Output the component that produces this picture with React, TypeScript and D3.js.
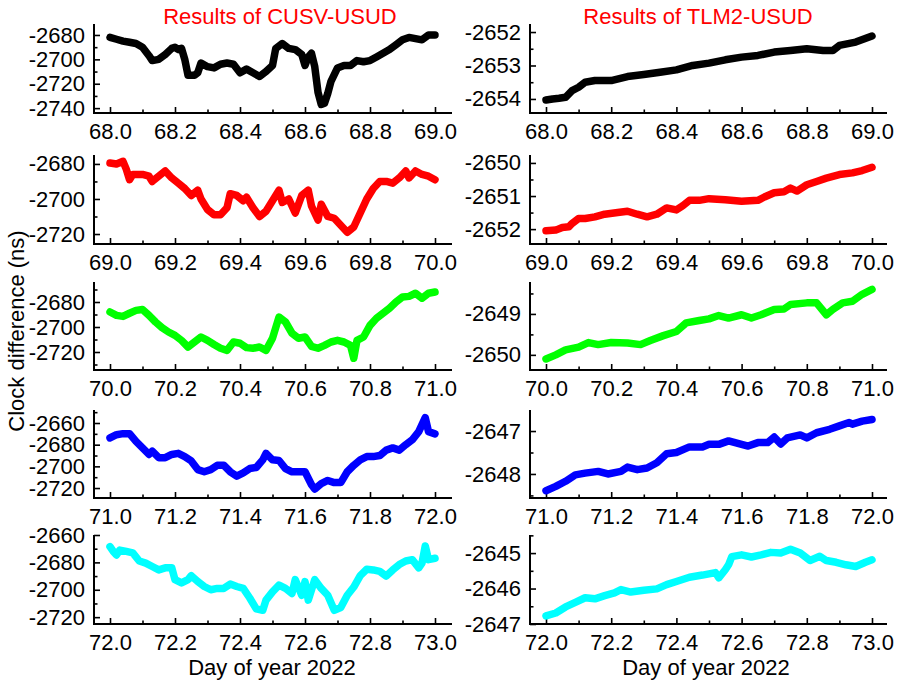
import React, { useEffect, useRef } from 'react'
import * as d3 from 'd3'

// Results of CUSV-USUD (left column), [day, clock difference ns]
const cusv68 = [[68.00,-2682],[68.02,-2683.5],[68.04,-2685],[68.06,-2686],[68.08,-2687],[68.10,-2690],[68.12,-2697],[68.13,-2701],[68.15,-2700],[68.17,-2696],[68.19,-2691],[68.20,-2690],[68.21,-2692],[68.22,-2691],[68.23,-2700],[68.24,-2713],[68.26,-2713],[68.27,-2711],[68.28,-2703],[68.30,-2706],[68.32,-2707],[68.34,-2704],[68.36,-2703],[68.38,-2704],[68.40,-2711],[68.42,-2708],[68.44,-2711],[68.46,-2714],[68.48,-2710],[68.50,-2705],[68.51,-2691],[68.53,-2687],[68.55,-2691],[68.57,-2692],[68.59,-2696],[68.60,-2705],[68.61,-2698],[68.62,-2695],[68.63,-2706],[68.64,-2727],[68.65,-2737],[68.66,-2736],[68.67,-2728],[68.68,-2718],[68.70,-2707],[68.72,-2705],[68.74,-2705],[68.76,-2701],[68.78,-2702],[68.80,-2701],[68.82,-2698],[68.84,-2695],[68.86,-2692],[68.88,-2688],[68.90,-2684],[68.92,-2682],[68.94,-2683],[68.96,-2684],[68.98,-2680],[69.00,-2680]]
const cusv69 = [[69.00,-2679.5],[69.02,-2680],[69.04,-2678.5],[69.05,-2683],[69.06,-2689],[69.07,-2686],[69.10,-2686],[69.12,-2687],[69.13,-2690],[69.15,-2687],[69.17,-2684],[69.19,-2688],[69.21,-2691],[69.23,-2694],[69.25,-2698],[69.27,-2695],[69.28,-2700],[69.30,-2706],[69.32,-2709],[69.34,-2709],[69.36,-2705],[69.37,-2697],[69.39,-2698],[69.41,-2701],[69.42,-2699],[69.44,-2705],[69.46,-2710],[69.48,-2707],[69.50,-2701],[69.52,-2695],[69.53,-2702],[69.55,-2700],[69.57,-2708],[69.59,-2698],[69.61,-2695],[69.62,-2704],[69.64,-2712],[69.65,-2703],[69.67,-2710],[69.69,-2711],[69.71,-2715],[69.73,-2719],[69.75,-2716],[69.77,-2708],[69.79,-2700],[69.81,-2694],[69.83,-2690],[69.85,-2690],[69.87,-2691],[69.89,-2688],[69.91,-2684],[69.92,-2688],[69.94,-2684],[69.96,-2686],[69.98,-2687],[70.00,-2689]]
const cusv70 = [[70.00,-2688],[70.02,-2690.7],[70.04,-2691.5],[70.06,-2689],[70.08,-2686.7],[70.10,-2686],[70.12,-2690.7],[70.14,-2696],[70.16,-2700.5],[70.18,-2704],[70.20,-2706.7],[70.22,-2710.7],[70.24,-2716],[70.26,-2712],[70.28,-2708],[70.30,-2710.7],[70.32,-2714],[70.34,-2717],[70.36,-2718.7],[70.38,-2712],[70.40,-2713],[70.42,-2716.5],[70.44,-2717],[70.46,-2716],[70.48,-2718.7],[70.50,-2709],[70.52,-2692],[70.54,-2696],[70.56,-2705],[70.58,-2709],[70.60,-2708],[70.62,-2715.5],[70.64,-2717],[70.66,-2714.7],[70.68,-2712],[70.70,-2710.7],[70.72,-2712],[70.74,-2714.7],[70.75,-2725],[70.76,-2710.7],[70.78,-2708],[70.80,-2698.7],[70.82,-2693],[70.84,-2689],[70.86,-2685],[70.88,-2680],[70.90,-2676],[70.92,-2675.5],[70.94,-2673],[70.96,-2677],[70.98,-2673],[71.00,-2672]]
const cusv71 = [[71.00,-2673.8],[71.02,-2670.8],[71.04,-2669.8],[71.06,-2669.8],[71.08,-2677],[71.10,-2683],[71.12,-2689],[71.13,-2686],[71.15,-2692],[71.17,-2692],[71.19,-2689],[71.21,-2688],[71.23,-2691],[71.25,-2695],[71.27,-2703],[71.29,-2705],[71.31,-2703],[71.33,-2699],[71.35,-2699],[71.37,-2705],[71.39,-2709],[71.41,-2706],[71.43,-2702],[71.45,-2701],[71.47,-2694],[71.48,-2688],[71.50,-2694],[71.52,-2694.6],[71.54,-2702],[71.56,-2705],[71.58,-2705],[71.60,-2705],[71.62,-2717],[71.63,-2721],[71.65,-2716],[71.67,-2713],[71.69,-2715],[71.71,-2715],[71.73,-2705],[71.75,-2699],[71.77,-2694],[71.79,-2691],[71.81,-2691],[71.83,-2690],[71.85,-2685],[71.87,-2683],[71.89,-2685],[71.91,-2680],[71.93,-2675.5],[71.95,-2668],[71.97,-2655],[71.98,-2668],[72.00,-2670]]
const cusv72 = [[72.00,-2668.5],[72.01,-2672],[72.02,-2674.6],[72.03,-2671],[72.05,-2672],[72.07,-2673],[72.09,-2679],[72.11,-2680.5],[72.13,-2683],[72.15,-2685.5],[72.17,-2684],[72.19,-2684],[72.20,-2692.6],[72.22,-2695],[72.24,-2692.6],[72.25,-2689.7],[72.27,-2694],[72.29,-2697.6],[72.31,-2700],[72.33,-2699],[72.35,-2699],[72.37,-2695.8],[72.39,-2697.6],[72.41,-2699],[72.43,-2706],[72.45,-2714],[72.47,-2715],[72.48,-2707.6],[72.50,-2701.5],[72.52,-2696.6],[72.54,-2699],[72.56,-2702.7],[72.57,-2692.6],[72.59,-2704],[72.60,-2694],[72.61,-2707.6],[72.63,-2692.6],[72.65,-2699],[72.67,-2704],[72.69,-2715],[72.71,-2713],[72.73,-2704],[72.75,-2698],[72.77,-2689.7],[72.79,-2685],[72.81,-2685.5],[72.83,-2686.6],[72.85,-2690],[72.87,-2685.5],[72.89,-2681.6],[72.91,-2679],[72.93,-2678],[72.95,-2684],[72.96,-2680.5],[72.97,-2668],[72.98,-2678],[73.00,-2677]]

// Results of TLM2-USUD (right column)
const tlm68 = [[68.00,-2654.03],[68.02,-2654.0],[68.04,-2653.98],[68.06,-2653.95],[68.08,-2653.75],[68.10,-2653.65],[68.12,-2653.5],[68.15,-2653.45],[68.20,-2653.45],[68.25,-2653.33],[68.30,-2653.27],[68.35,-2653.2],[68.40,-2653.13],[68.45,-2653.0],[68.50,-2652.93],[68.55,-2652.83],[68.60,-2652.75],[68.65,-2652.7],[68.70,-2652.6],[68.75,-2652.55],[68.80,-2652.5],[68.85,-2652.55],[68.88,-2652.55],[68.90,-2652.4],[68.95,-2652.3],[69.00,-2652.12]]
const tlm69 = [[69.00,-2652.05],[69.03,-2652.03],[69.05,-2651.95],[69.07,-2651.93],[69.08,-2651.83],[69.10,-2651.68],[69.12,-2651.68],[69.15,-2651.63],[69.18,-2651.55],[69.22,-2651.5],[69.25,-2651.46],[69.28,-2651.55],[69.31,-2651.63],[69.34,-2651.55],[69.37,-2651.36],[69.40,-2651.42],[69.42,-2651.29],[69.44,-2651.13],[69.47,-2651.13],[69.50,-2651.08],[69.55,-2651.11],[69.60,-2651.16],[69.65,-2651.13],[69.67,-2651.03],[69.70,-2650.9],[69.73,-2650.87],[69.75,-2650.76],[69.77,-2650.85],[69.80,-2650.66],[69.83,-2650.56],[69.86,-2650.46],[69.90,-2650.35],[69.94,-2650.3],[69.97,-2650.23],[70.00,-2650.13]]
const tlm70 = [[70.00,-2650.1],[70.03,-2650.0],[70.06,-2649.88],[70.10,-2649.81],[70.13,-2649.7],[70.16,-2649.75],[70.20,-2649.7],[70.25,-2649.71],[70.29,-2649.75],[70.32,-2649.65],[70.36,-2649.53],[70.40,-2649.43],[70.43,-2649.22],[70.47,-2649.16],[70.50,-2649.12],[70.53,-2649.04],[70.56,-2649.1],[70.60,-2649.02],[70.63,-2649.1],[70.66,-2649.02],[70.70,-2648.89],[70.73,-2648.88],[70.75,-2648.77],[70.80,-2648.73],[70.83,-2648.73],[70.86,-2649.02],[70.88,-2648.89],[70.91,-2648.73],[70.94,-2648.69],[70.97,-2648.52],[71.00,-2648.4]]
const tlm71 = [[71.00,-2648.39],[71.03,-2648.29],[71.06,-2648.17],[71.09,-2648.02],[71.12,-2647.98],[71.16,-2647.94],[71.19,-2648.0],[71.23,-2647.94],[71.25,-2647.84],[71.28,-2647.9],[71.31,-2647.86],[71.34,-2647.74],[71.37,-2647.53],[71.40,-2647.5],[71.44,-2647.37],[71.48,-2647.37],[71.50,-2647.31],[71.53,-2647.31],[71.56,-2647.23],[71.60,-2647.31],[71.62,-2647.35],[71.65,-2647.27],[71.68,-2647.27],[71.70,-2647.14],[71.72,-2647.3],[71.74,-2647.16],[71.78,-2647.09],[71.80,-2647.16],[71.83,-2647.04],[71.87,-2646.96],[71.90,-2646.88],[71.93,-2646.8],[71.94,-2646.84],[71.97,-2646.77],[72.00,-2646.73]]
const tlm72 = [[72.00,-2646.77],[72.03,-2646.69],[72.06,-2646.52],[72.09,-2646.39],[72.12,-2646.26],[72.15,-2646.29],[72.18,-2646.2],[72.21,-2646.12],[72.23,-2646.03],[72.26,-2646.1],[72.30,-2646.05],[72.34,-2646.01],[72.37,-2645.89],[72.40,-2645.8],[72.44,-2645.68],[72.48,-2645.62],[72.52,-2645.55],[72.53,-2645.7],[72.55,-2645.47],[72.56,-2645.33],[72.57,-2645.1],[72.60,-2645.05],[72.63,-2645.11],[72.66,-2645.05],[72.69,-2644.98],[72.72,-2645.0],[72.75,-2644.89],[72.78,-2645.0],[72.81,-2645.21],[72.84,-2645.09],[72.86,-2645.21],[72.89,-2645.26],[72.92,-2645.33],[72.95,-2645.38],[72.98,-2645.26],[73.00,-2645.19]]

const startDays = [68, 69, 70, 71, 72]
const rowColors = ['#000000', '#ff0000', '#00ff00', '#0000ff', '#00ffff']
const titles = ['Results of CUSV-USUD', 'Results of TLM2-USUD']

// y ranges and tick labels for each panel
const leftDomains = [[-2744, -2671], [-2725.7, -2674.9], [-2734.4, -2664], [-2729.2, -2648], [-2725, -2660]]
const rightDomains = [[-2654.42, -2651.76], [-2652.45, -2649.76], [-2650.37, -2648.22], [-2648.56, -2646.51], [-2647, -2644.49]]
const leftTicks = [[-2680, -2700, -2720, -2740], [-2680, -2700, -2720], [-2680, -2700, -2720], [-2660, -2680, -2700, -2720], [-2660, -2680, -2700, -2720]]
const rightTicks = [[-2652, -2653, -2654], [-2650, -2651, -2652], [-2649, -2650], [-2647, -2648], [-2645, -2646, -2647]]

const FONT = '"Liberation Sans", Arial, sans-serif'

export default function App() {
    const ref = useRef(null)

    useEffect(() => {
        const svg = d3.select(ref.current)
        svg.selectAll('*').remove()

        const cols = [
            { axisX: 94, x0: 110, x1: 435, axisEnd: 452, series: [cusv68, cusv69, cusv70, cusv71, cusv72], domains: leftDomains, ticks: leftTicks, step: 10 },
            { axisX: 530, x0: 546, x1: 872, axisEnd: 887, series: [tlm68, tlm69, tlm70, tlm71, tlm72], domains: rightDomains, ticks: rightTicks, step: 0.5 }
        ]
        const rowTop = [24, 155, 282, 410, 535]
        const rowBottom = [113, 244, 370, 498, 624]

        cols.forEach((col, ci) => {
            startDays.forEach((d0, ri) => {
                const x = d3.scaleLinear().domain([d0, d0 + 1]).range([col.x0, col.x1])
                const y = d3.scaleLinear().domain(col.domains[ri]).range([rowBottom[ri], rowTop[ri]])
                const g = svg.append('g')

                // minor ticks at the odd tenths, major every 0.2
                const xMinor = d3.range(0, 11).map(i => d0 + i * 0.1).filter((_, i) => i % 2 === 1)
                const xMajor = d3.range(0, 6).map(i => +(d0 + i * 0.2).toFixed(1))
                const [lo, hi] = col.domains[ri]
                const yMinor = d3.range(Math.ceil(lo / col.step) * col.step, hi, col.step)
                    .filter(v => !col.ticks[ri].some(t => Math.abs(t - v) < 1e-6))

                const xAxisG = g.append('g').attr('transform', `translate(0,${rowBottom[ri]})`)
                xAxisG.call(d3.axisBottom(x).tickValues(xMinor).tickSizeInner(-3.5).tickSizeOuter(0).tickFormat(() => ''))
                const xAxisG2 = g.append('g').attr('transform', `translate(0,${rowBottom[ri]})`)
                xAxisG2.call(d3.axisBottom(x).tickValues(xMajor).tickSizeInner(-6).tickSizeOuter(0).tickPadding(10).tickFormat(d => d.toFixed(1)))

                const yAxisG = g.append('g').attr('transform', `translate(${col.axisX},0)`)
                yAxisG.call(d3.axisLeft(y).tickValues(yMinor).tickSizeInner(-3.5).tickSizeOuter(0).tickFormat(() => ''))
                const yAxisG2 = g.append('g').attr('transform', `translate(${col.axisX},0)`)
                // plain hyphen for the minus sign, like the original
                yAxisG2.call(d3.axisLeft(y).tickValues(col.ticks[ri]).tickSizeInner(-6).tickSizeOuter(0).tickPadding(9).tickFormat(d => String(d)))

                g.selectAll('.domain').remove()
                g.selectAll('.tick line').attr('stroke', '#000').attr('stroke-width', 1.6)
                g.selectAll('.tick text')
                    .attr('font-family', FONT)
                    .attr('font-size', 22)
                    .attr('fill', '#000')

                // axis lines
                g.append('path')
                    .attr('d', `M${col.axisX},${rowTop[ri]}V${rowBottom[ri]}H${col.axisEnd}`)
                    .attr('fill', 'none')
                    .attr('stroke', '#000')
                    .attr('stroke-width', 2)

                const line = d3.line()
                    .x(d => x(d[0]))
                    .y(d => y(d[1]))

                g.append('path')
                    .datum(col.series[ri])
                    .attr('d', line)
                    .attr('fill', 'none')
                    .attr('stroke', rowColors[ri])
                    .attr('stroke-width', 7.5)
                    .attr('stroke-linejoin', 'round')
                    .attr('stroke-linecap', 'round')
            })
        })

        // titles
        svg.selectAll('.title')
            .data(titles)
            .enter()
            .append('text')
            .attr('x', (d, i) => i === 0 ? 280 : 698)
            .attr('y', 24)
            .attr('text-anchor', 'middle')
            .attr('font-family', FONT)
            .attr('font-size', 22)
            .attr('fill', '#ff0000')
            .text(d => d)

        // x labels
        ;[272, 706].forEach(cx => {
            svg.append('text')
                .attr('x', cx)
                .attr('y', 675)
                .attr('text-anchor', 'middle')
                .attr('font-family', FONT)
                .attr('font-size', 22)
                .attr('fill', '#000')
                .text('Day of year 2022')
        })

        svg.append('text')
            .attr('transform', 'translate(24,331) rotate(-90)')
            .attr('text-anchor', 'middle')
            .attr('font-family', FONT)
            .attr('font-size', 22)
            .attr('fill', '#000')
            .text('Clock difference (ns)')
    }, [])

    return (
        <div style={{ position: 'absolute', left: 0, top: 0 }}>
            <svg ref={ref} width={898} height={687} style={{ display: 'block', background: '#fff' }} />
        </div>
    )
}
